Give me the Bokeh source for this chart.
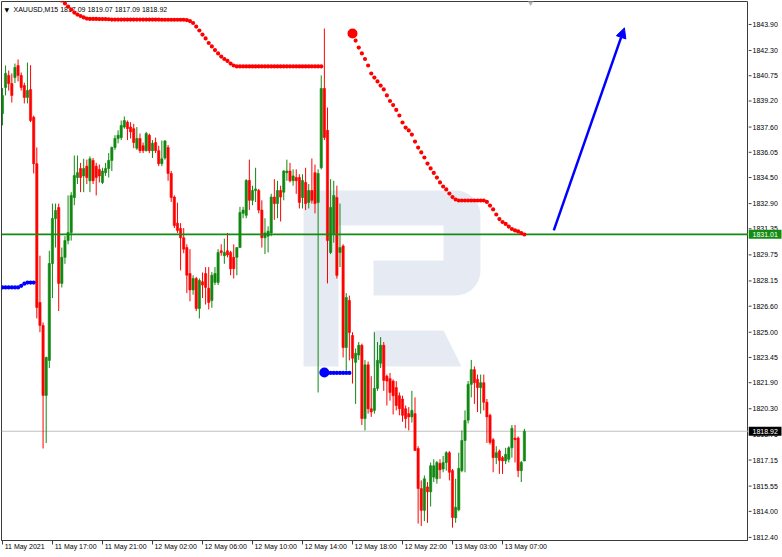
import numpy as np
from bokeh.plotting import figure
from bokeh.layouts import row
from bokeh.models import (FixedTicker, Label, Arrow, NormalHead, ColumnDataSource, Range1d,
                          LinearAxis)
from bokeh.core.properties import value
from bokeh.embed import file_html
from bokeh.resources import INLINE

# ---------------- data ----------------
symbol = "XAUUSD,M15"
opens = [
    1838.43, 1840.03, 1840.77, 1840.27, 1840.64, 1841.38, 1840.77, 1840.15, 1839.42, 1839.90,
    1838.20, 1835.35, 1826.83, 1825.42, 1821.12, 1823.27, 1829.22, 1831.98, 1832.66, 1828.00,
    1829.60, 1830.63, 1831.12, 1833.27, 1834.50, 1835.05, 1834.60, 1835.20, 1834.30, 1835.55,
    1835.20, 1835.00, 1834.20, 1834.80, 1835.05, 1835.55, 1836.35, 1836.90, 1836.95, 1837.60,
    1837.90, 1837.60, 1837.50, 1836.30, 1836.90, 1836.45, 1836.15, 1837.10, 1836.15, 1836.65,
    1836.15, 1835.35, 1835.70, 1836.35, 1834.75, 1833.30, 1831.70, 1831.37, 1830.80, 1830.20,
    1828.60, 1827.60, 1828.30, 1826.46, 1828.10, 1828.60, 1827.70, 1826.95, 1828.06, 1828.06,
    1830.00, 1829.70, 1830.00, 1829.90, 1829.60, 1829.60, 1830.20, 1832.30, 1832.18, 1834.32,
    1833.10, 1833.70, 1833.70, 1832.50, 1830.80, 1830.90, 1831.10, 1833.30, 1832.90, 1833.70,
    1833.60, 1834.80, 1834.90, 1834.30, 1834.50, 1834.50, 1833.27, 1834.20, 1832.97, 1833.70,
    1834.80, 1832.97, 1835.10, 1839.97, 1837.40, 1829.90, 1831.06, 1833.27, 1829.90, 1830.30,
    1824.06, 1826.95, 1824.80, 1823.15, 1823.60, 1824.20, 1819.70, 1823.00, 1820.30, 1820.20,
    1821.55, 1823.10, 1824.20, 1822.30, 1822.15, 1822.00, 1821.60, 1821.10, 1820.90, 1820.30,
    1820.00, 1819.80, 1820.00, 1817.86, 1815.40, 1814.06, 1815.50, 1815.20, 1816.10, 1816.00,
    1816.95, 1816.60, 1817.00, 1817.60, 1816.50, 1813.60, 1814.10, 1816.50, 1818.35, 1819.60,
    1821.80, 1822.70, 1822.10, 1821.60, 1821.90, 1820.70, 1819.90, 1818.40, 1817.30, 1817.70,
    1817.30, 1817.10, 1817.20, 1817.90, 1818.50, 1818.50, 1816.50, 1817.09]
highs = [
    1840.00, 1841.38, 1841.07, 1840.89, 1841.50, 1841.75, 1840.95, 1840.33, 1841.56, 1841.40,
    1838.30, 1836.35, 1829.70, 1825.60, 1823.50, 1830.00, 1832.90, 1832.90, 1832.90, 1830.20,
    1830.90, 1833.40, 1833.60, 1835.85, 1835.85, 1835.40, 1835.65, 1835.60, 1835.80, 1835.70,
    1835.40, 1835.30, 1835.10, 1835.40, 1836.00, 1836.40, 1837.10, 1837.40, 1838.00, 1838.25,
    1838.00, 1837.90, 1837.80, 1837.60, 1837.20, 1836.65, 1837.30, 1837.20, 1836.80, 1836.95,
    1836.45, 1836.77, 1836.80, 1836.50, 1834.90, 1833.40, 1832.96, 1831.70, 1831.40, 1830.40,
    1830.10, 1828.50, 1828.40, 1828.30, 1828.67, 1829.00, 1829.00, 1828.70, 1829.00, 1830.10,
    1830.40, 1830.75, 1831.10, 1830.00, 1830.40, 1830.20, 1832.70, 1832.70, 1834.40, 1835.60,
    1834.00, 1835.10, 1833.80, 1833.10, 1832.00, 1831.50, 1833.50, 1834.40, 1834.30, 1834.00,
    1834.95, 1835.60, 1835.40, 1835.00, 1835.00, 1834.70, 1834.70, 1835.10, 1834.10, 1835.67,
    1835.30, 1835.00, 1840.77, 1843.65, 1838.80, 1834.40, 1834.30, 1834.00, 1832.90, 1830.40,
    1827.40, 1827.25, 1825.00, 1824.00, 1824.40, 1824.30, 1823.30, 1823.20, 1822.30, 1825.00,
    1824.40, 1824.70, 1824.40, 1822.40, 1822.50, 1822.10, 1822.00, 1821.30, 1821.10, 1820.50,
    1820.40, 1821.40, 1821.00, 1818.00, 1815.90, 1816.20, 1815.80, 1817.00, 1817.20, 1817.10,
    1817.20, 1817.40, 1817.70, 1817.70, 1816.60, 1816.00, 1817.60, 1818.97, 1820.20, 1822.00,
    1823.30, 1822.90, 1822.40, 1822.40, 1822.40, 1820.90, 1820.00, 1818.50, 1818.00, 1817.80,
    1817.40, 1817.90, 1818.00, 1819.30, 1819.30, 1818.60, 1817.10, 1819.07]
lows = [
    1837.70, 1839.54, 1839.84, 1839.10, 1840.30, 1840.40, 1839.84, 1839.05, 1839.05, 1837.90,
    1834.75, 1825.85, 1825.00, 1817.86, 1818.20, 1822.80, 1827.10, 1830.20, 1826.30, 1827.75,
    1829.20, 1830.40, 1830.63, 1832.80, 1834.10, 1833.60, 1833.60, 1834.10, 1833.60, 1834.10,
    1833.40, 1834.20, 1834.10, 1834.60, 1834.50, 1834.90, 1836.20, 1836.60, 1836.80, 1837.50,
    1836.80, 1836.90, 1836.30, 1836.20, 1836.00, 1836.00, 1836.10, 1836.00, 1835.70, 1836.00,
    1835.20, 1835.20, 1835.60, 1834.30, 1833.00, 1831.40, 1831.10, 1828.80, 1829.85, 1827.40,
    1826.90, 1827.30, 1826.30, 1825.85, 1827.10, 1826.70, 1826.40, 1826.50, 1827.90, 1827.90,
    1829.70, 1829.20, 1829.60, 1828.50, 1828.30, 1828.50, 1830.20, 1832.00, 1832.00, 1832.50,
    1832.80, 1833.00, 1832.30, 1830.20, 1829.80, 1829.90, 1830.90, 1831.90, 1832.00, 1831.80,
    1833.10, 1834.30, 1834.20, 1834.00, 1833.50, 1832.60, 1832.60, 1832.50, 1832.60, 1832.90,
    1832.30, 1821.30, 1835.00, 1836.80, 1828.00, 1829.80, 1830.50, 1828.30, 1829.00, 1823.45,
    1822.65, 1823.27, 1821.85, 1820.60, 1823.30, 1819.30, 1818.97, 1820.00, 1819.80, 1820.00,
    1821.40, 1822.80, 1821.40, 1820.50, 1820.80, 1819.95, 1820.20, 1819.90, 1819.50, 1819.10,
    1818.97, 1819.45, 1817.70, 1813.25, 1813.10, 1813.40, 1813.30, 1814.30, 1815.80, 1815.70,
    1816.00, 1816.40, 1816.50, 1815.90, 1813.00, 1813.30, 1814.00, 1816.40, 1816.40, 1819.40,
    1821.00, 1820.60, 1820.10, 1820.00, 1820.20, 1818.20, 1818.10, 1816.40, 1816.90, 1816.30,
    1816.30, 1816.90, 1817.00, 1817.30, 1817.00, 1816.10, 1815.80, 1817.09]
closes = [
    1839.54, 1840.89, 1840.27, 1839.54, 1841.26, 1840.77, 1840.03, 1839.42, 1839.84, 1838.00,
    1835.35, 1826.52, 1825.42, 1821.12, 1823.45, 1829.22, 1831.98, 1832.48, 1828.00, 1829.60,
    1830.63, 1831.12, 1833.40, 1834.62, 1834.80, 1834.50, 1835.05, 1834.50, 1835.65, 1834.30,
    1834.50, 1834.60, 1834.90, 1835.05, 1835.55, 1836.35, 1836.90, 1837.10, 1837.70, 1838.00,
    1837.50, 1837.30, 1836.65, 1836.90, 1836.15, 1836.15, 1837.20, 1836.15, 1836.60, 1836.15,
    1835.35, 1835.65, 1836.75, 1834.75, 1833.27, 1831.55, 1831.25, 1830.80, 1830.10, 1828.50,
    1827.60, 1828.30, 1826.46, 1828.18, 1827.90, 1827.75, 1826.83, 1828.50, 1828.60, 1829.90,
    1829.90, 1829.90, 1829.75, 1828.90, 1828.90, 1830.20, 1832.35, 1832.50, 1834.32, 1833.10,
    1833.70, 1833.80, 1832.50, 1830.80, 1831.10, 1831.20, 1833.30, 1832.90, 1833.70, 1833.30,
    1834.90, 1834.90, 1834.30, 1834.60, 1834.30, 1832.97, 1834.32, 1832.90, 1833.70, 1833.10,
    1832.90, 1834.75, 1839.97, 1836.96, 1830.63, 1832.66, 1833.40, 1828.49, 1830.20, 1824.06,
    1827.13, 1824.98, 1823.40, 1823.70, 1824.20, 1819.70, 1823.00, 1820.30, 1820.10, 1821.55,
    1823.27, 1824.20, 1822.04, 1822.00, 1821.30, 1821.10, 1820.50, 1820.30, 1819.90, 1819.70,
    1819.80, 1820.20, 1817.74, 1815.40, 1814.06, 1816.00, 1815.20, 1816.80, 1816.80, 1817.00,
    1816.55, 1817.00, 1817.60, 1816.40, 1813.63, 1814.25, 1816.64, 1818.35, 1819.58, 1821.80,
    1822.70, 1821.90, 1821.60, 1821.90, 1820.70, 1819.80, 1818.23, 1817.30, 1817.60, 1817.13,
    1817.10, 1817.50, 1817.90, 1819.10, 1818.40, 1816.50, 1817.00, 1818.92]

# trailing-stop indicator (red above price, blue below)
red_trail1_start = 19
red_trail1 = [
    1845.37, 1845.19, 1845.00, 1844.82, 1844.63, 1844.51, 1844.42, 1844.33, 1844.26,
    1844.24, 1844.24, 1844.24, 1844.23, 1844.23, 1844.23, 1844.22,
    1844.20, 1844.20, 1844.20, 1844.20, 1844.20, 1844.20, 1844.20, 1844.20, 1844.20, 1844.20,
    1844.20, 1844.20, 1844.20, 1844.20, 1844.20, 1844.20, 1844.19, 1844.19, 1844.19, 1844.19,
    1844.19, 1844.19, 1844.19, 1844.19,
    1844.17, 1844.11, 1843.99, 1843.77, 1843.53, 1843.28, 1843.04, 1842.76, 1842.55, 1842.33,
    1842.12, 1841.93, 1841.78, 1841.66, 1841.50, 1841.38,
    1841.32, 1841.32, 1841.32, 1841.32, 1841.32, 1841.32, 1841.32, 1841.32, 1841.32, 1841.32,
    1841.32, 1841.32, 1841.32, 1841.32, 1841.32, 1841.32, 1841.32, 1841.32, 1841.32, 1841.32,
    1841.32, 1841.32, 1841.32, 1841.32, 1841.32, 1841.32, 1841.32, 1841.32]
red_trail2_start = 112
red_trail2 = [
    1843.34, 1842.91, 1842.48, 1842.12, 1841.78, 1841.38, 1840.89, 1840.64, 1840.40, 1840.15,
    1839.91, 1839.54, 1839.20, 1838.95, 1838.65, 1838.31, 1837.88, 1837.57, 1837.39, 1837.14,
    1836.71, 1836.34, 1836.04, 1835.73, 1835.36, 1835.06, 1834.78, 1834.50, 1834.20, 1833.95,
    1833.77, 1833.52, 1833.30, 1833.15, 1833.09,
    1833.09, 1833.09, 1833.09, 1833.09, 1833.09, 1833.09, 1833.09, 1833.09, 1833.00,
    1832.78, 1832.54, 1832.23, 1831.95, 1831.77, 1831.65, 1831.49, 1831.34, 1831.25, 1831.19,
    1831.09, 1831.00]
blue_trail1_start = 0
blue_trail1 = [1827.75, 1827.75, 1827.75, 1827.75, 1827.75, 1827.75, 1827.85, 1827.98,
               1828.05, 1828.05, 1828.05]
blue_trail2_start = 103
blue_trail2 = [1822.53, 1822.50, 1822.50, 1822.50, 1822.50, 1822.50, 1822.50, 1822.50, 1822.50]

level_line = 1831.01
price_ticks = [1843.90, 1842.30, 1840.75, 1839.20, 1837.60, 1836.05, 1834.50, 1832.90, 1831.35,
               1829.75, 1828.15, 1826.60, 1825.00, 1823.45, 1821.90, 1820.30, 1818.75, 1817.15,
               1815.55, 1814.00, 1812.40]
tick_bars = [0, 16, 32, 48, 64, 80, 96, 112, 128, 144, 160]
time_labels = ["11 May 2021", "11 May 17:00", "11 May 21:00", "12 May 02:00", "12 May 06:00",
               "12 May 10:00", "12 May 14:00", "12 May 18:00", "12 May 22:00", "13 May 03:00",
               "13 May 07:00"]
arrow_from = (176.4, 1831.25)
arrow_to = (199.0, 1843.69)

# ---------------- figure ----------------
X0, X1 = -0.3, 238.7
Y0, Y1 = 1812.21, 1845.31
FW, FH = 747, 539
PX_PER_BAR = FW / (X1 - X0)
FONT = "Liberation Sans"
BULL, BEAR = "#118811", "#ff0000"
FRAME = "#3c3c3c"

p = figure(frame_width=FW, frame_height=FH, output_backend="svg", toolbar_location=None,
           x_range=Range1d(X0, X1), y_range=Range1d(Y0, Y1), y_axis_location=None,
           background_fill_color="white", border_fill_color="white")
p.min_border = 0
p.min_border_left = 1
p.min_border_right = 0
p.min_border_top = 1
p.min_border_bottom = 0
p.grid.visible = False
p.outline_line_color = FRAME
p.outline_line_width = 1

# watermark (decoration) defined in reference-pixel space
def to_data(xs, ys):
    return [(x - 2) / 3.125 for x in xs], [1845.37 - 0.0614 * y for y in ys]

def arc(cx, cy, r, a0, a1, n=10):
    t = np.linspace(np.radians(a0), np.radians(a1), n)
    return list(cx + r * np.cos(t)), list(cy + r * np.sin(t))

ax1, ay1 = arc(455, 215, 25, -90, 0)
ax2, ay2 = arc(455, 270, 25, 0, 90)
wx = [303] + ax1 + ax2 + [373, 373, 443, 443, 338, 338, 303]
wy = [190] + ay1 + ay2 + [295, 260, 260, 225, 225, 366, 366]
lx, ly = [373, 443, 461, 373], [330, 330, 366, 366]
dx1, dy1 = to_data(wx, wy)
dx2, dy2 = to_data(lx, ly)
p.patches([dx1, dx2], [dy1, dy2], fill_color="#e6ebf3", line_color=None)

# current price line
p.segment(x0=[X0], y0=[closes[-1]], x1=[X1], y1=[closes[-1]], line_color="#c0c0c0", line_width=1)

# candles
idx = list(range(len(opens)))
cols = [BULL if c >= o else BEAR for o, c in zip(opens, closes)]
src = ColumnDataSource(dict(x=idx, o=opens, h=highs, l=lows, c=closes, col=cols,
                            top=[max(o, c) for o, c in zip(opens, closes)],
                            bot=[min(o, c) for o, c in zip(opens, closes)]))
p.segment(x0="x", y0="l", x1="x", y1="h", source=src, line_color="col", line_width=1)
p.vbar(x="x", top="top", bottom="bot", width=0.72, source=src, fill_color="col",
       line_color="col", line_width=0.6)

# horizontal level
p.segment(x0=[X0], y0=[level_line], x1=[X1], y1=[level_line], line_color="#148c14", line_width=1.6)

# trailing dots
def trail(start, vals):
    return list(range(start, start + len(vals))), vals

tx, ty = trail(red_trail1_start, red_trail1)
p.scatter(tx, ty, size=4.2, color="#ff0000", line_width=0)
tx, ty = trail(red_trail2_start, red_trail2)
p.scatter(tx[1:], ty[1:], size=4.2, color="#ff0000", line_width=0)
p.scatter(tx[:1], ty[:1], size=10, color="#ff0000", line_width=0)
tx, ty = trail(blue_trail1_start, blue_trail1)
p.scatter(tx, ty, size=4.2, color="#0000ff", line_width=0)
tx, ty = trail(blue_trail2_start, blue_trail2)
p.scatter(tx[1:], ty[1:], size=4.2, color="#0000ff", line_width=0)
p.scatter(tx[:1], ty[:1], size=10, color="#0000ff", line_width=0)

# chart-shift marker
p.scatter([169], [Y1], marker="inverted_triangle", size=8, color="#b4b4b4", line_width=0)

# arrow
p.add_layout(Arrow(end=NormalHead(size=10, fill_color="#0000ff", line_color="#0000ff"),
                   x_start=arrow_from[0], y_start=arrow_from[1],
                   x_end=arrow_to[0], y_end=arrow_to[1],
                   line_color="#0000ff", line_width=2.5))

# time axis: tick marks on the first axis, left-aligned labels on a second one
xa = p.xaxis[0]
xa.ticker = FixedTicker(ticks=tick_bars)
xa.major_label_overrides = {b: "" for b in tick_bars}
xa.major_label_text_font_size = "1px"
xa.major_tick_out = 4
xa.major_tick_in = 0
xa.minor_tick_line_color = None
xa.major_label_standoff = 0
xa.axis_line_color = FRAME
xa.major_tick_line_color = FRAME

def text_px(s, size=7.0):
    w = {" ": 0.278, ":": 0.278, "M": 0.833, "a": 0.556, "y": 0.5}
    return sum(w.get(ch, 0.556) for ch in s) * size

label_pos = [b + (text_px(t) / 2 + 2) / PX_PER_BAR for b, t in zip(tick_bars, time_labels)]
xb = LinearAxis(ticker=FixedTicker(ticks=label_pos),
                major_label_overrides={pos: t for pos, t in zip(label_pos, time_labels)})
xb.major_label_text_font = FONT
xb.major_label_text_font_size = "7px"
xb.major_label_text_color = "#000000"
xb.major_tick_line_color = None
xb.minor_tick_line_color = None
xb.axis_line_color = None
xb.major_tick_out = 0
xb.major_tick_in = 0
xb.major_label_standoff = -2
p.add_layout(xb, "below")

# header text
header = f"{symbol}  {opens[-1]:.2f} {highs[-1]:.2f} {lows[-1]:.2f} {closes[-1]:.2f}"
p.add_layout(Label(x=X0, y=Y1, text="\u25BC", text_font="DejaVu Sans", text_font_size="6px",
                   text_color="#000000", text_baseline="middle", x_offset=3, y_offset=-8,
                   level="underlay"))
p.add_layout(Label(x=X0, y=Y1, text=header, text_font=FONT, text_font_size="7px",
                   text_color="#000000", text_baseline="middle", x_offset=12, y_offset=-8,
                   level="underlay"))

# ---------------- price scale strip (shares the price range) ----------------
AW = 34
s = figure(frame_width=AW, frame_height=FH, output_backend="svg", toolbar_location=None,
           x_range=Range1d(0, AW), y_range=p.y_range, x_axis_location=None,
           y_axis_location=None, background_fill_color="white", border_fill_color="white")
s.min_border = 0
s.min_border_top = 1
s.min_border_left = 0
s.min_border_right = 0
s.min_border_bottom = 0
s.grid.visible = False
s.outline_line_color = None

s.segment(x0=[0] * len(price_ticks), y0=price_ticks, x1=[3] * len(price_ticks), y1=price_ticks,
          line_color=FRAME, line_width=1)
s.text(x=[4] * len(price_ticks), y=price_ticks, text=[f"{v:.2f}" for v in price_ticks],
       text_font=value(FONT), text_font_size="7px", text_color="#000000",
       text_baseline="middle", text_align="left")

tag_prices = [level_line, closes[-1]]
tag_colors = ["#148c14", "#000000"]
s.rect(x=[16.5, 16.5], y=tag_prices, width=33, height=9, height_units="screen",
       fill_color=tag_colors, line_color=None)
s.text(x=[4, 4], y=tag_prices, text=[f"{v:.2f}" for v in tag_prices],
       text_font=value(FONT), text_font_size="7px", text_color="#ffffff",
       text_baseline="middle", text_align="left")

layout = row(p, s, spacing=0)
open("out.html", "w").write(file_html(layout, INLINE))
